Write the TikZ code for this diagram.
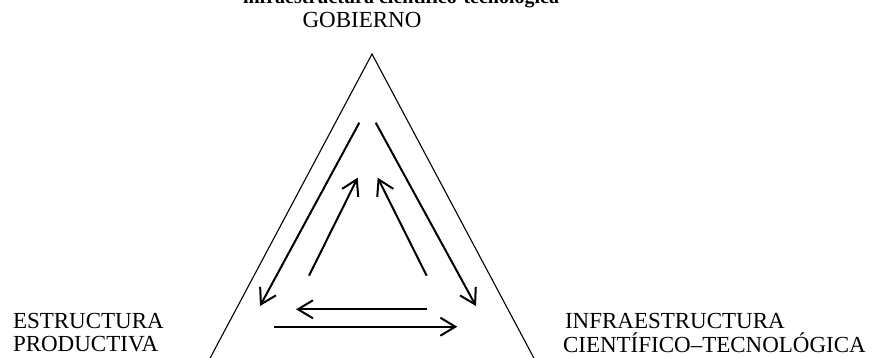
\documentclass[tikz,border=0pt]{standalone}
\usepackage{fontspec}
\setmainfont{Liberation Serif}
\usetikzlibrary{arrows.meta}
\begin{document}
\begin{tikzpicture}[x=1pt,y=-1pt,
  lbl/.style={inner sep=0pt,outer sep=0pt,font=\fontsize{23}{27}\selectfont},
  ttl/.style={inner sep=0pt,outer sep=0pt,font=\fontsize{20}{24}\selectfont\bfseries},
  side/.style={line width=1.1pt},
  flow/.style={line width=2pt,-{Straight Barb[length=15pt,width=18pt,line width=2pt]}}]
\useasboundingbox (0,0) rectangle (872,358);
\clip (0,0) rectangle (872,358);
% title (cut off at the top edge, as in the reference)
\node[ttl,anchor=base] (title) at (401,4) {infraestructura científico-tecnológica};
% labels
\node[lbl,anchor=base] (gob) at (362,28) {GOBIERNO};
\node[lbl,anchor=base west] (ep1) at (13,328) {ESTRUCTURA};
\node[lbl,anchor=base west] (ep2) at (13,351) {PRODUCTIVA};
\node[lbl,anchor=base west] (ict1) at (565,328) {INFRAESTRUCTURA};
\node[lbl,anchor=base west] (ict2) at (563,352) {CIENTÍFICO–TECNOLÓGICA};
% triangle
\coordinate (apex) at (372,54);
\coordinate (bl) at (208,362);
\coordinate (br) at (536,362);
\draw[side] (bl) -- (apex) -- (br);
% arrows
\coordinate (a1s) at (359.3,122.7); \coordinate (a1e) at (260,306);
\coordinate (a2s) at (375.7,122.7); \coordinate (a2e) at (476,306);
\coordinate (a3s) at (309,275.7);   \coordinate (a3e) at (357.7,177.7);
\coordinate (a4s) at (426.7,275.7); \coordinate (a4e) at (377.7,177.7);
\coordinate (a5s) at (427.3,309.3); \coordinate (a5e) at (296,309.3);
\coordinate (a6s) at (274.3,326.7); \coordinate (a6e) at (457.3,326.7);
\draw[flow] (a1s) -- (a1e);
\draw[flow] (a2s) -- (a2e);
\draw[flow] (a3s) -- (a3e);
\draw[flow] (a4s) -- (a4e);
\draw[flow] (a5s) -- (a5e);
\draw[flow] (a6s) -- (a6e);
\end{tikzpicture}
\end{document}
